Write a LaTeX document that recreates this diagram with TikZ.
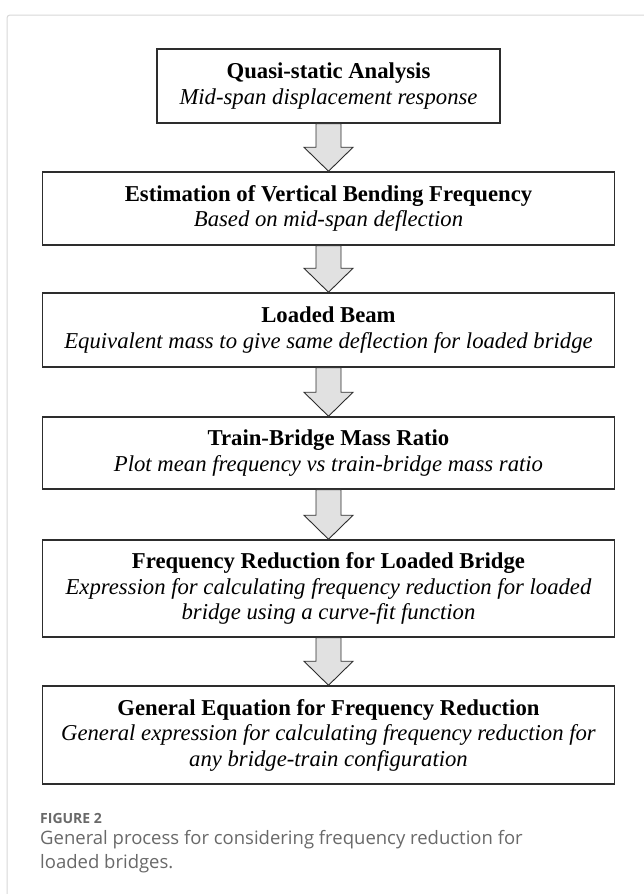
\documentclass[tikz,border=0pt]{standalone}
\usepackage{fontspec}
\setmainfont{Liberation Serif}
\newfontfamily\capfont{Open Sans}
\usepackage{tikz}
\usetikzlibrary{calc}

\definecolor{framegrey}{RGB}{215,215,215}
\definecolor{boxgrey}{RGB}{45,45,45}
\definecolor{arrowfill}{RGB}{225,225,225}
\definecolor{capgrey}{RGB}{105,105,105}

\begin{document}
\begin{tikzpicture}[x=1pt, y=1pt,
        step_style/.style={draw=boxgrey, line width=1.5pt, fill=white, inner sep=0pt,
            minimum width=572pt, align=center, font=\fontsize{22.7}{25.5}\selectfont},
        arrow_style/.style={draw=boxgrey, line width=0.9pt, fill=arrowfill, line join=miter},
        caption_style/.style={anchor=base west, inner sep=0pt, text=capgrey, align=left}]

        \useasboundingbox (0,0) rectangle (644,-894);

        \draw [framegrey, line width=1pt, rounded corners=3pt] (7,-894) -- (7,-15) -- (650,-15);

        \node [step_style, minimum width=343pt, minimum height=74pt](n1) at (328.5,-86) {\textbf{Quasi-static Analysis}\\\textit{Mid-span displacement response}};

        \node [step_style, minimum height=73pt](n2) at (328.5,-208.5) {\textbf{Estimation of Vertical Bending Frequency}\\\textit{Based on mid-span deflection}};

        \node [step_style, minimum height=74pt](n3) at (328.5,-330) {\textbf{Loaded Beam}\\\textit{Equivalent mass to give same deflection for loaded bridge}};

        \node [step_style, minimum height=72pt](n4) at (328.5,-453) {\textbf{Train-Bridge Mass Ratio}\\\textit{Plot mean frequency vs train-bridge mass ratio}};

        \node [step_style, minimum height=97pt](n5) at (328.5,-588.5) {\textbf{Frequency Reduction for Loaded Bridge}\\\textit{Expression for calculating frequency reduction for loaded}\\\textit{bridge using a curve-fit function}};

        \node [step_style, minimum height=98pt](n6) at (328.5,-735) {\textbf{General Equation for Frequency Reduction}\\\textit{General expression for calculating frequency reduction for}\\\textit{any bridge-train configuration}};

        \draw [arrow_style] ($(n1.south)+(-12.5,0)$) -- ($(n2.north)+(-12.5,24)$) -- ++(-12,0) -- (n2.north) -- ++(24.5,24) -- ++(-12,0) -- ($(n1.south)+(12.5,0)$) -- cycle;

        \draw [arrow_style] ($(n2.south)+(-12.5,0)$) -- ($(n3.north)+(-12.5,24)$) -- ++(-12,0) -- (n3.north) -- ++(24.5,24) -- ++(-12,0) -- ($(n2.south)+(12.5,0)$) -- cycle;

        \draw [arrow_style] ($(n3.south)+(-12.5,0)$) -- ($(n4.north)+(-12.5,24)$) -- ++(-12,0) -- (n4.north) -- ++(24.5,24) -- ++(-12,0) -- ($(n3.south)+(12.5,0)$) -- cycle;

        \draw [arrow_style] ($(n4.south)+(-12.5,0)$) -- ($(n5.north)+(-12.5,24)$) -- ++(-12,0) -- (n5.north) -- ++(24.5,24) -- ++(-12,0) -- ($(n4.south)+(12.5,0)$) -- cycle;

        \draw [arrow_style] ($(n5.south)+(-12.5,0)$) -- ($(n6.north)+(-12.5,24)$) -- ++(-12,0) -- (n6.north) -- ++(24.5,24) -- ++(-12,0) -- ($(n5.south)+(12.5,0)$) -- cycle;

        \node [caption_style, font=\capfont\fontsize{14}{16}\selectfont\bfseries](fig) at (40,-823) {FIGURE 2};

        \node [caption_style, font=\capfont\fontsize{18.5}{24}\selectfont](cap) at (40,-868) {General process for considering frequency reduction for\\loaded bridges.};

        \end{tikzpicture}
\end{document}
